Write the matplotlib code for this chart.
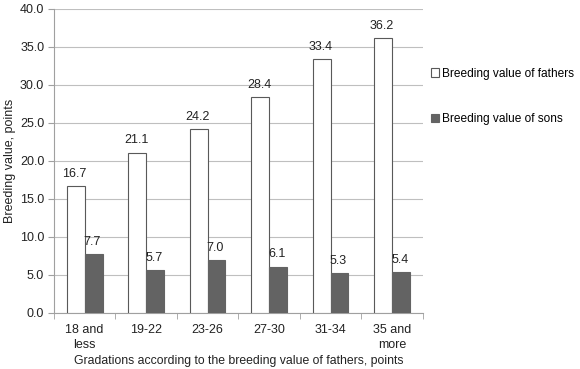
import numpy as np
import matplotlib
matplotlib.use('Agg')
import matplotlib.pyplot as plt
from matplotlib.patches import Patch

plt.rcParams['font.family'] = ['Liberation Sans', 'DejaVu Sans']

categories = ['18 and\nless', '19-22', '23-26', '27-30', '31-34', '35 and\nmore']
fathers = [16.7, 21.1, 24.2, 28.4, 33.4, 36.2]
sons = [7.7, 5.7, 7.0, 6.1, 5.3, 5.4]

fs = 9
fig = plt.figure(figsize=(5.8, 3.69), dpi=100)
ax = fig.add_axes([0.093, 0.152, 0.636, 0.824])

x = np.arange(len(categories))
w = 0.29
ax.bar(x - w / 2, fathers, w, color='white', edgecolor='#595959', linewidth=0.8, zorder=3)
ax.bar(x + w / 2, sons, w, color='#636363', edgecolor='#636363', linewidth=0.8, zorder=3)

for xi, v in zip(x, fathers):
    ax.text(xi - w / 2 - 0.02, v + 0.8, f'{v:.1f}', ha='center', va='bottom', fontsize=fs, color='#222222')
for xi, v in zip(x, sons):
    ax.text(xi + w / 2 - 0.02, v + 0.8, f'{v:.1f}', ha='center', va='bottom', fontsize=fs, color='#222222')

ax.set_xlim(-0.5, len(categories) - 0.5)
ax.set_ylim(0, 40)
ax.set_yticks(np.arange(0, 40.1, 5))
ax.set_yticklabels([f'{t:.1f}' for t in np.arange(0, 40.1, 5)], fontsize=fs, color='#222222')
ax.yaxis.grid(True, color='#bfbfbf', linewidth=0.8, zorder=0)
ax.set_axisbelow(True)

ax.set_xticks(x)
ax.set_xticklabels(categories, fontsize=fs, color='#222222', linespacing=1.3)
ax.set_xticks(np.arange(-0.5, len(categories)), minor=True)
ax.tick_params(axis='x', which='major', length=0, pad=8)
ax.tick_params(axis='x', which='minor', length=4, color='#a0a0a0')
ax.tick_params(axis='y', length=4, color='#a0a0a0', pad=3)

for s in ['top', 'right']:
    ax.spines[s].set_visible(False)
ax.spines['left'].set_color('#a0a0a0')
ax.spines['bottom'].set_color('#a0a0a0')

ax.set_ylabel('Breeding value, points', fontsize=fs, color='#222222', labelpad=3)
ax.set_xlabel('Gradations according to the breeding value of fathers, points', fontsize=8.8,
              color='#222222', labelpad=3)

handles = [Patch(facecolor='white', edgecolor='#595959', linewidth=0.8),
           Patch(facecolor='#636363', edgecolor='#636363', linewidth=0.8)]
fig.legend(handles, ['Breeding value of fathers', 'Breeding value of sons'],
           loc='upper left', bbox_to_anchor=(0.735, 0.83), frameon=False,
           fontsize=8.6, handlelength=0.7, handleheight=0.7, handletextpad=0.2,
           labelspacing=2.8, borderaxespad=0)

fig.savefig('out.png', dpi=100)
